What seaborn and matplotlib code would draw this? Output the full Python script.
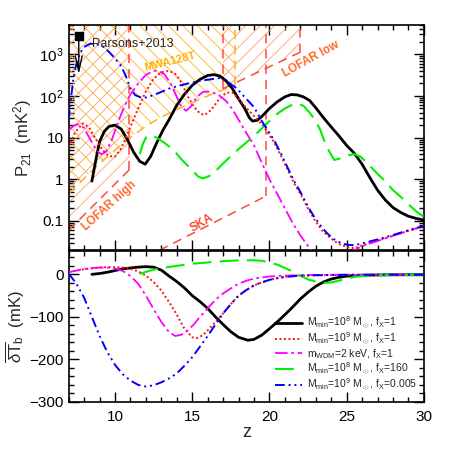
import matplotlib
matplotlib.use("Agg")
import matplotlib.pyplot as plt
import seaborn as sns
from matplotlib.ticker import MultipleLocator, FixedLocator, NullFormatter, LogLocator
from matplotlib.backend_bases import GraphicsContextBase

# ---------------- data ----------------
# upper panel: 21-cm power spectrum P21 (mK^2)
black_z = [8.5, 8.8, 9.0, 9.3, 9.6, 10.0, 10.4, 10.8, 11.2, 11.6, 11.95, 12.3, 12.7, 13.1, 13.5,
           14.0, 14.5, 15.0, 15.5, 16.0, 16.4, 16.8, 17.2, 17.6, 18.0, 18.4, 18.7, 18.9, 19.2, 19.5,
           20.0, 20.5, 21.0, 21.4, 21.8, 22.2, 22.6, 23.0, 23.5, 24.0, 24.5, 25.0, 25.5, 26.0, 26.5,
           27.0, 27.5, 28.0, 28.5, 29.0, 29.5, 30.0]
black_P = [0.9, 3.5, 8, 14, 18.5, 20, 16, 9, 4.5, 2.7, 2.3, 3.5, 7.5, 15, 27,
           60, 110, 180, 250, 310, 325, 300, 230, 150, 85, 50, 30, 25, 26, 32,
           50, 72, 95, 108, 106, 95, 78, 52, 30, 18, 11, 6.5, 4.2, 2.3, 1.1,
           0.55, 0.32, 0.21, 0.16, 0.13, 0.115, 0.105]

red_z = [7.0, 7.4, 7.9, 8.3, 8.7, 9.2, 9.6, 10.0, 10.4, 10.9, 11.5, 12.0, 12.5, 13.0, 13.5,
         13.9, 14.3, 14.7, 15.1, 15.5, 15.8, 16.2, 16.7, 17.2, 17.6, 18.0, 18.5, 19.0, 19.6, 20.3,
         20.7, 21.15, 21.6, 22.0, 22.5, 22.9, 23.4, 23.75, 24.2, 24.6, 25.0, 25.5, 26.0, 27.0, 28.0,
         29.0, 30.0]
red_P = [6, 13, 22, 18, 10, 5, 3.6, 3.5, 5.5, 15, 50, 130, 260, 370, 400,
         340, 210, 100, 55, 38, 35, 45, 80, 120, 120, 85, 52, 33, 19, 7.8,
         4.0, 1.8, 0.8, 0.45, 0.2, 0.11, 0.06, 0.045, 0.033, 0.027, 0.024, 0.022, 0.026, 0.034, 0.044,
         0.058, 0.074]

blue_z = [7.0, 7.15, 7.3, 7.5, 7.75, 8.0, 8.4, 8.8, 9.2, 9.6, 10.0, 10.4, 10.7, 11.0, 11.3,
          11.7, 12.0, 12.5, 13.0, 13.5, 14.0, 14.5, 15.0, 15.5, 16.0, 16.5, 16.8, 17.2, 17.6, 17.9,
          18.5, 19.0, 19.6, 20.3, 20.7, 21.15, 21.6, 22.0, 22.5, 22.9, 23.4, 23.75, 24.2, 24.6, 25.0,
          25.5, 26.0, 27.0, 28.0, 29.0, 30.0]
blue_P = [26, 90, 250, 600, 1100, 1500, 1800, 1750, 1550, 1150, 800, 520, 300, 150, 105,
          91, 92, 105, 125, 150, 170, 190, 210, 230, 245, 260, 270, 235, 180, 150,
          85, 54, 22, 8.7, 4.5, 2.0, 0.9, 0.5, 0.22, 0.125, 0.07, 0.05, 0.036, 0.03, 0.027,
          0.026, 0.029, 0.036, 0.046, 0.06, 0.076]

mag_z = [7.0, 7.3, 7.6, 8.0, 8.4, 8.8, 9.1, 9.4, 9.8, 10.2, 10.6, 11.0, 11.5, 12.0, 12.5,
         12.8, 13.2, 13.6, 14.0, 14.3, 14.6, 14.9, 15.3, 15.7, 16.0, 16.4, 16.8, 17.2, 17.6, 18.0,
         18.5, 19.0, 19.5, 20.0, 20.5, 21.0, 21.5, 22.0, 22.5, 23.0, 24.0, 25.0, 25.5, 26.0, 27.0,
         28.0, 29.0, 30.0]
mag_P = [15, 19, 21, 17, 9, 5, 4, 4.5, 9, 24, 55, 110, 200, 320, 400,
         400, 330, 200, 95, 55, 44, 55, 95, 125, 128, 118, 100, 75, 48, 27,
         13, 6.5, 2.5, 1.0, 0.45, 0.2, 0.09, 0.045, 0.025, 0.015, 0.010, 0.014, 0.02, 0.025, 0.033,
         0.044, 0.058, 0.076]

green_z = [11.6, 11.8, 12.0, 12.3, 12.7, 13.2, 13.8, 14.3, 14.9, 15.4, 15.7, 16.1, 16.6, 17.0, 17.5,
           18.0, 18.5, 19.0, 19.5, 20.0, 20.5, 21.0, 21.5, 21.8, 22.2, 22.6, 23.0, 23.3, 23.7, 24.2,
           24.6, 25.0, 25.5, 25.9, 26.5, 27.0, 27.5, 28.0, 28.5, 29.0, 29.5, 30.0]
green_P = [4.0, 7, 10, 11.5, 10, 7.5, 5.0, 3.0, 1.8, 1.15, 1.05, 1.2, 1.7, 2.4, 3.6,
           5.3, 7.6, 11, 16.5, 25, 37, 50, 62, 66, 58, 40, 25, 15, 6, 2.9,
           3.2, 3.7, 4.0, 3.5, 2.1, 1.35, 0.9, 0.55, 0.38, 0.25, 0.17, 0.125]

# lower panel: global brightness temperature (mK)
black_Tz = [8.5, 9.0, 9.5, 10.0, 10.5, 11.0, 11.5, 12.0, 12.5, 13.0, 13.5, 14.0, 14.5, 15.0, 15.5,
            16.0, 16.5, 17.0, 17.5, 18.0, 18.6, 19.0, 19.5, 20.0, 20.5, 21.0, 21.5, 22.0, 22.5, 23.0,
            23.5, 24.0, 24.5, 25.0, 25.5, 26.0, 27.0, 28.0, 29.0, 30.0]
black_T = [0, 2, 5, 9, 13, 15, 17, 18, 17, 10, -4, -17, -32, -50, -64,
           -80, -100, -118, -135, -148, -155, -153, -143, -128, -112, -95, -77, -58, -42, -28,
           -18, -11, -7, -4, -3, -2, -1.5, -1, -1, -1]

red_Tz = [7.0, 7.5, 8.0, 8.5, 9.0, 9.5, 10.0, 10.5, 11.0, 11.5, 12.0, 12.5, 13.0, 13.5, 14.0,
          14.5, 15.0, 15.3, 15.7, 16.0, 16.5, 17.0, 17.5, 18.0, 18.5, 19.0, 19.5, 20.0, 20.5, 21.0,
          22.0, 23.0, 25.0, 30.0]
red_T = [5, 9, 12, 14, 16, 17, 17, 16, 13, 7, -3, -18, -38, -65, -95,
         -128, -148, -150, -143, -132, -112, -92, -70, -50, -37, -26, -19, -13, -9, -6,
         -3, -2, -1, -1]

mag_Tz = [7.0, 7.5, 8.0, 8.5, 9.0, 9.5, 10.0, 10.5, 11.0, 11.5, 12.0, 12.5, 13.0, 13.5, 13.9,
          14.3, 14.7, 15.1, 15.5, 16.0, 16.5, 17.0, 17.5, 18.0, 18.5, 19.0, 19.5, 20.0, 21.0, 22.0,
          24.0, 26.0, 28.0, 30.0]
mag_T = [5, 9, 13, 15, 16, 16, 14, 8, -4, -22, -50, -82, -112, -136, -145,
         -142, -132, -118, -100, -80, -60, -45, -33, -22, -15, -10, -7, -5, -3, -2,
         -1, -1, -1, -1]

green_Tz = [11.6, 12.0, 12.5, 13.0, 14.0, 15.0, 16.0, 17.0, 18.0, 19.0, 19.5, 20.0, 20.5, 21.0, 21.5,
            22.0, 22.5, 23.0, 23.5, 24.0, 24.5, 25.0, 25.5, 26.0, 27.0, 28.0, 30.0]
green_T = [1, 6, 11, 15, 20, 25, 28, 31, 33, 33, 32, 28, 23, 15, 7,
           -3, -12, -17, -20, -19, -15, -10, -6, -4, -2, -1.5, -1]

blue_Tz = [7.0, 7.5, 8.0, 8.5, 9.0, 9.5, 10.0, 10.5, 11.0, 11.5, 12.0, 12.5, 13.0, 13.5, 14.0,
           14.5, 15.0, 15.5, 16.0, 16.5, 17.0, 17.5, 18.0, 18.5, 19.0, 19.5, 20.0, 20.5, 21.0, 22.0,
           23.0, 25.0, 30.0]
blue_T = [2, -22, -55, -100, -145, -183, -213, -235, -250, -260, -264, -261, -254, -245, -233,
          -215, -195, -170, -145, -118, -92, -70, -50, -37, -26, -19, -13, -9, -6, -3,
          -2, -1, -1]

# instrument sensitivity curves
mwa_z = [7.0, 8.0, 9.0, 10.0, 11.0, 12.0, 13.0, 14.0, 15.0, 16.0, 17.0, 17.8]
mwa_P = [0.45, 1.05, 2.4, 5.0, 10, 19, 31, 47, 68, 100, 140, 180]
lofar_high_z = [7.0, 10.93]
lofar_high_P = [0.06, 1.7]
lofar_low_z = [17.0, 21.95]
lofar_low_P = [150, 1100]
ska_z = [12.0, 19.8]
ska_P = [0.0135, 0.40]

parsons_z = 7.65
parsons_P = 2800
parsons_limit = 330

labels = [r"M$_\mathrm{min}$=10$^8$ M$_\odot$, f$_\mathrm{X}$=1",
          r"M$_\mathrm{min}$=10$^9$ M$_\odot$, f$_\mathrm{X}$=1",
          r"m$_\mathrm{WDM}$=2 keV, f$_\mathrm{X}$=1",
          r"M$_\mathrm{min}$=10$^8$ M$_\odot$, f$_\mathrm{X}$=160",
          r"M$_\mathrm{min}$=10$^9$ M$_\odot$, f$_\mathrm{X}$=0.005"]

# slightly denser hatching than matplotlib's default
_orig_hatch_path = GraphicsContextBase.get_hatch_path


def _dense_hatch_path(self, density=6.0):
    return _orig_hatch_path(self, density=7.2)


GraphicsContextBase.get_hatch_path = _dense_hatch_path

# ---------------- style ----------------
sns.set_style("ticks")
plt.rcParams["font.family"] = ["Liberation Sans", "DejaVu Sans"]
plt.rcParams["mathtext.fontset"] = "custom"
plt.rcParams["mathtext.rm"] = "Liberation Sans"
plt.rcParams["mathtext.it"] = "Liberation Sans:italic"
plt.rcParams["mathtext.bf"] = "Liberation Sans:bold"
plt.rcParams["hatch.linewidth"] = 0.6
plt.rcParams["axes.linewidth"] = 1.2

X0, X1 = 7, 30
YT0, YT1 = 0.02, 5000
YB0, YB1 = -300, 55

fig = plt.figure(figsize=(4.49, 4.49), dpi=100)
ax1 = fig.add_axes([0.153, 0.443, 0.791, 0.501])
ax2 = fig.add_axes([0.153, 0.105, 0.791, 0.336])

C_BLACK = "black"
C_RED = "#FF1010"
C_MAG = "#FF00FF"
C_GREEN = "#00F000"
C_BLUE = "#0000FF"

styles = [
    (C_BLACK, "-", 2.0),
    (C_RED, (0, (1, 1.3)), 1.4),
    (C_MAG, (0, (7, 2, 1.5, 2)), 1.3),
    (C_GREEN, (0, (9, 4)), 1.5),
    (C_BLUE, (0, (5, 2, 1, 2, 1, 2)), 1.4),
]


def draw(ax, z, v, style):
    color, ls, lw = style
    sns.lineplot(x=z, y=v, ax=ax, color=color, linestyle=ls, linewidth=lw,
                 estimator=None, sort=False, legend=False, zorder=5)
    return ax.lines[-1]


# ---------------- upper panel ----------------
ax1.set_yscale("log")
ax1.set_xlim(X0, X1)
ax1.set_ylim(YT0, YT1)

C_MWA = "#FFB01E"
C_LOFAR_H = "#FF9A66"
C_RDASH = "#FF4A3A"

# hatched sensitivity regions
ax1.fill_between(mwa_z, mwa_P, YT1 * 10, facecolor="none", edgecolor=C_MWA,
                 hatch="\\\\", linewidth=0, zorder=1)
ax1.fill_between(lofar_high_z, lofar_high_P, YT1 * 10, facecolor="none", edgecolor=C_LOFAR_H,
                 hatch="//", linewidth=0, zorder=1)
ax1.fill_between(lofar_low_z, lofar_low_P, YT1 * 10, facecolor="none", edgecolor=C_LOFAR_H,
                 hatch="//", linewidth=0, zorder=1)

dash = (0, (6, 4))
ax1.plot(mwa_z, mwa_P, color=C_MWA, ls=dash, lw=1.1, zorder=2)
ax1.vlines(mwa_z[-1], mwa_P[-1], YT1 * 10, color=C_MWA, ls=dash, lw=1.1, zorder=2)
ax1.plot(lofar_high_z, lofar_high_P, color=C_RDASH, ls=dash, lw=1.1, zorder=2)
ax1.vlines(lofar_high_z[-1], lofar_high_P[-1], YT1 * 10, color=C_RDASH, ls=dash, lw=1.1, zorder=2)
ax1.plot(lofar_low_z, lofar_low_P, color=C_RDASH, ls=dash, lw=1.1, zorder=2)
ax1.vlines(lofar_low_z[0], lofar_low_P[0], YT1 * 10, color=C_RDASH, ls=dash, lw=1.1, zorder=2)
ax1.vlines(lofar_low_z[-1], lofar_low_P[-1], YT1 * 10, color=C_RDASH, ls=dash, lw=1.1, zorder=2)
ax1.plot(ska_z, ska_P, color=C_RDASH, ls=dash, lw=1.1, zorder=2)
ax1.vlines(ska_z[-1], ska_P[-1], YT1 * 10, color=C_RDASH, ls=dash, lw=1.1, zorder=2)

top_curves = [(black_z, black_P), (red_z, red_P), (mag_z, mag_P), (green_z, green_P), (blue_z, blue_P)]
for (z, p), st in zip(top_curves, styles):
    draw(ax1, z, p, st)

# Parsons+2013 upper limit
ax1.plot([parsons_z], [parsons_P], marker="s", color="black", markersize=6, zorder=6)
ax1.annotate("", xy=(parsons_z, parsons_limit), xytext=(parsons_z, parsons_P),
             arrowprops=dict(arrowstyle="->,head_length=1.1,head_width=0.25", color="black", lw=1.0,
                             shrinkA=0, shrinkB=0), zorder=6)
ax1.text(8.5, 1750, "Parsons+2013", fontsize=9, ha="left", va="center", zorder=7)

ax1.text(13.58, 680, "MWA128T", color="#FFB000", fontsize=8, fontweight="bold",
         rotation=14, ha="center", va="center")
ax1.text(9.6, 0.23, "LOFAR high", color="#FF6A2A", fontsize=8.5, fontweight="bold",
         rotation=42, ha="center", va="center")
ax1.text(22.72, 780, "LOFAR low", color="#FF6A2A", fontsize=8.5, fontweight="bold",
         rotation=29, ha="center", va="center")
ax1.text(15.63, 0.087, "SKA", color="#FF4A2A", fontsize=8.5, fontweight="bold",
         rotation=30, ha="center", va="center")

ax1.yaxis.set_major_locator(FixedLocator([0.1, 1, 10, 100, 1000]))
ax1.set_yticklabels(["0.1", "1", "10", r"10$^2$", r"10$^3$"])
ax1.yaxis.set_minor_locator(LogLocator(base=10, subs=range(2, 10), numticks=20))
ax1.yaxis.set_minor_formatter(NullFormatter())
ax1.xaxis.set_major_locator(MultipleLocator(5))
ax1.xaxis.set_minor_locator(MultipleLocator(1))
ax1.xaxis.set_major_formatter(NullFormatter())
ax1.set_ylabel(r"P$_{21}$  (mK$^2$)", fontsize=12, labelpad=4)
ax1.set_xlabel("")

# ---------------- lower panel ----------------
ax2.set_xlim(X0, X1)
ax2.set_ylim(YB0, YB1)
bottom_curves = [(black_Tz, black_T), (red_Tz, red_T), (mag_Tz, mag_T), (green_Tz, green_T), (blue_Tz, blue_T)]
handles = []
for (z, t), st in zip(bottom_curves, styles):
    handles.append(draw(ax2, z, t, st))

ax2.xaxis.set_major_locator(MultipleLocator(5))
ax2.xaxis.set_minor_locator(MultipleLocator(1))
ax2.yaxis.set_major_locator(MultipleLocator(100))
ax2.yaxis.set_minor_locator(MultipleLocator(20))
ax2.set_xlabel("z", fontsize=13, labelpad=0)
ax2.set_ylabel(r"$\overline{\delta \mathrm{T}}_\mathrm{b}$  (mK)", fontsize=12, labelpad=2)

leg = ax2.legend(handles, labels, loc="upper left", bbox_to_anchor=(275 / 449, 1 - 315 / 449),
                 bbox_transform=fig.transFigure, frameon=False, fontsize=7.5, handlelength=2.6,
                 handletextpad=0.5, labelspacing=0.0, borderpad=0, borderaxespad=0)

for ax in (ax1, ax2):
    ax.tick_params(which="both", direction="in", top=True, right=True, colors="black",
                   labelsize=11, width=1.0)
    ax.tick_params(which="major", length=7)
    ax.tick_params(which="minor", length=3.5)
    ax.tick_params(axis="x", pad=6)
    for s in ax.spines.values():
        s.set_linewidth(1.2)
        s.set_color("black")

fig.savefig("out.png", dpi=100)
